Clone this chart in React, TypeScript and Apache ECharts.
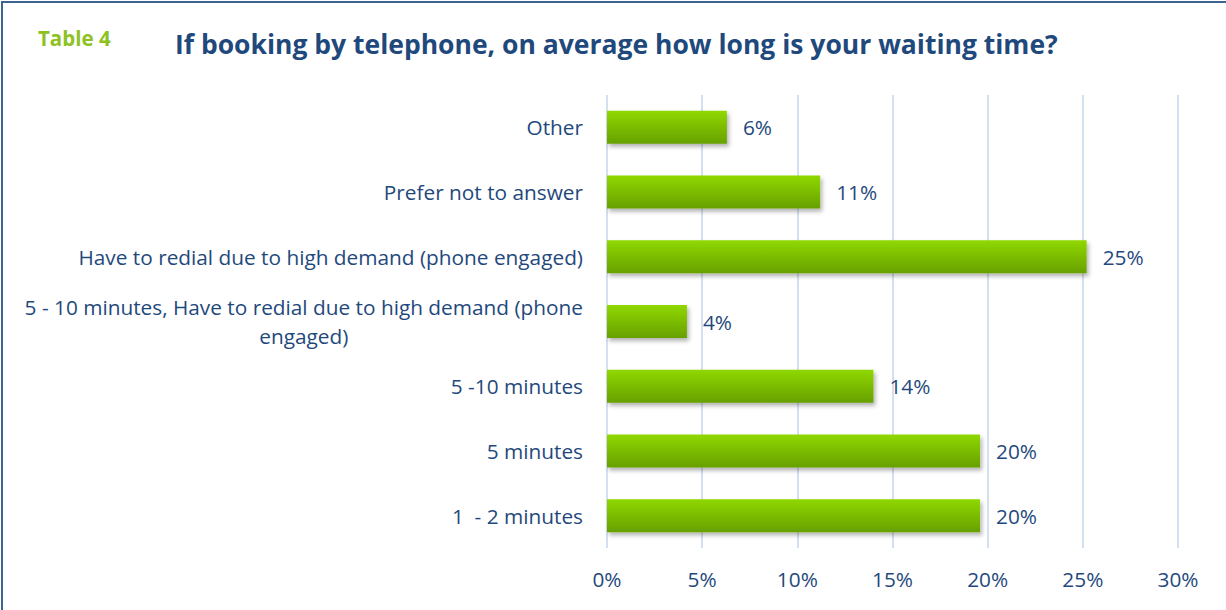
import React, { useEffect, useRef } from "react";
import * as echarts from "echarts";

const categories = [
  "Other",
  "Prefer not to answer",
  "Have to redial due to high demand (phone engaged)",
  "5 - 10 minutes, Have to redial due to high demand (phone engaged)",
  "5 -10 minutes",
  "5 minutes",
  "1  - 2 minutes",
];
const values = [6.3, 11.2, 25.2, 4.2, 14.0, 19.6, 19.6];
const xTicks = [0, 5, 10, 15, 20, 25, 30];

const FONT = "'Open Sans', Lato, sans-serif";
const BLUE = "#1F497D";
const FS = 20.8;

function wrap(s: string, max: number): string[] {
  const words = s.split(" ");
  const lines: string[] = [];
  let cur = "";
  for (const w of words) {
    const next = cur === "" ? w : cur + " " + w;
    if (next.length > max && cur !== "") {
      lines.push(cur);
      cur = w;
    } else cur = next;
  }
  if (cur) lines.push(cur);
  return lines;
}

export default function App() {
  const ref = useRef<HTMLDivElement>(null);
  useEffect(() => {
    const chart = echarts.init(ref.current!, null, { renderer: "svg" });
    chart.setOption({
      animation: false,
      backgroundColor: "#ffffff",
      textStyle: { fontFamily: FONT },
      title: [
        {
          text: "If booking by telephone, on average how long is your waiting time?",
          left: 170,
          top: 25,
          textStyle: { fontFamily: FONT, fontSize: 26.5, fontWeight: "bold", color: BLUE },
        },
        {
          text: "Table 4",
          left: 33,
          top: 22,
          textStyle: { fontFamily: FONT, fontSize: 20.5, fontWeight: "bold", color: "#8DC21F" },
        },
      ],
      graphic: [
        {
          type: "rect",
          shape: { x: 2, y: 2, width: 1240, height: 630 },
          style: { fill: "none", stroke: "#3F6391", lineWidth: 2 },
          silent: true,
        },
      ],
      grid: { left: 607, right: 48, top: 95, bottom: 62, containLabel: false },
      xAxis: {
        type: "value",
        min: 0,
        max: 30,
        interval: 5,
        axisLine: { show: false },
        axisTick: { show: false },
        splitLine: { show: true, lineStyle: { color: "#D3E0F1", width: 2 } },
        axisLabel: {
          formatter: (v: number) => (xTicks.includes(v) ? v + "%" : ""),
          fontFamily: FONT,
          fontSize: FS,
          color: BLUE,
          margin: 20,
        },
      },
      yAxis: {
        type: "category",
        data: categories,
        inverse: true,
        axisLine: { show: false },
        axisTick: { show: false },
        axisLabel: {
          fontFamily: FONT,
          fontSize: FS,
          color: BLUE,
          margin: 24,
          lineHeight: 29,
          formatter: (s: string) =>
            wrap(s, 56)
              .map((l) => "{c|" + l + "}")
              .join("\n"),
          rich: {
            c: { align: "center", fontFamily: FONT, fontSize: FS, color: BLUE, lineHeight: 29 },
          },
        },
      },
      series: [
        {
          type: "bar",
          data: values,
          barWidth: 33,
          itemStyle: {
            color: new echarts.graphic.LinearGradient(0, 0, 0, 1, [
              { offset: 0, color: "#90D800" },
              { offset: 1, color: "#67A000" },
            ]),
            shadowBlur: 4,
            shadowOffsetX: 2,
            shadowOffsetY: 3,
            shadowColor: "rgba(0,0,0,0.3)",
          },
          label: {
            show: true,
            position: "right",
            distance: 16,
            formatter: (p: any) => Math.round(p.value) + "%",
            fontFamily: FONT,
            fontSize: FS,
            color: BLUE,
          },
        },
      ],
    });
    return () => chart.dispose();
  }, []);
  return (
    <div
      ref={ref}
      style={{ position: "fixed", left: 0, top: 0, width: 1226, height: 610 }}
    />
  );
}
